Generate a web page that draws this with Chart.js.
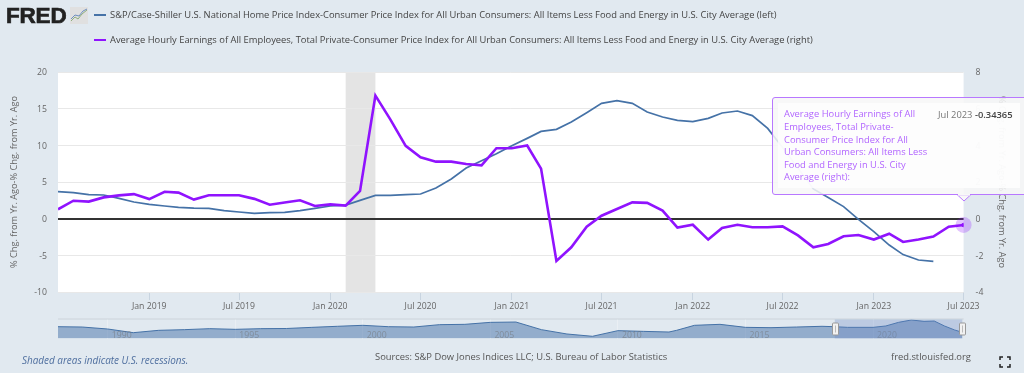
<!DOCTYPE html>
<html><head><meta charset="utf-8">
<script src="https://cdn.jsdelivr.net/npm/chart.js@4"></script>
<style>
html,body{margin:0;padding:0;background:#e1e9f0;width:1024px;height:373px;overflow:hidden;font-family:"Open Sans",sans-serif;}
canvas{position:absolute;left:0;display:block}
.t{position:absolute;white-space:nowrap;line-height:14px;}
.leg{font-size:9.37px;color:#444;left:110px}
.key{position:absolute;left:94px;width:12px}
#tip{position:absolute;left:772px;top:97px;width:270px;height:98px;box-sizing:border-box;border:1px solid #b878ff;border-radius:3px;background:rgba(247,247,247,.85)}
#tipin{position:absolute;left:778px;top:103px;width:242px;height:85px;background:rgba(255,255,255,.8)}
#tipname{position:absolute;left:784px;top:108.4px;width:147px;font-size:9.37px;line-height:12.6px;color:#b266ff}
</style></head><body>
<canvas id="main" width="1024" height="373" style="top:0"></canvas>
<canvas id="nav" width="1024" height="27" style="top:315px"></canvas>

<div class="t" style="left:6px;top:4px;font:900 22.5px/24px 'Liberation Sans',sans-serif;color:#222;-webkit-text-stroke:.7px #222;letter-spacing:-.2px">FRED</div>
<svg style="position:absolute;left:70px;top:7px" width="18" height="17"><rect width="18" height="17" fill="#e0e0e0"/><polyline points="1,14 5,10 8,12 12,7 17,3" fill="none" stroke="#8fae7c" stroke-width="1"/><polyline points="1,12 5,8 9,9 13,4 17,2" fill="none" stroke="#6f8fbf" stroke-width="1"/></svg>

<div class="key" style="top:14px;height:1.5px;background:#4572a7"></div>
<div class="key" style="top:38.5px;height:2px;background:#9013fe"></div>
<div class="t leg" style="top:8px">S&amp;P/Case-Shiller U.S. National Home Price Index-Consumer Price Index for All Urban Consumers: All Items Less Food and Energy in U.S. City Average (left)</div>
<div class="t leg" style="top:32.7px">Average Hourly Earnings of All Employees, Total Private-Consumer Price Index for All Urban Consumers: All Items Less Food and Energy in U.S. City Average (right)</div>

<div id="tip"></div><div id="tipin"></div>
<svg style="position:absolute;left:957px;top:194px" width="14" height="8"><polygon points="0.5,1 7,7 13.5,1" fill="#f8f8f8" stroke="#b878ff"/><rect x="1" y="0" width="12" height="1.6" fill="#f8f8f8"/></svg>
<div id="tipname">Average Hourly Earnings of All Employees, Total Private-Consumer Price Index for All Urban Consumers: All Items Less Food and Energy in U.S. City Average (right):</div>
<div class="t" style="left:938px;top:108px;font-size:9.37px;color:#777">Jul 2023 <span style="color:#444;font-weight:600">-0.34365</span></div>

<div class="t" style="left:22px;top:353px;font-size:9.94px;font-style:italic;color:#4f6f9f">Shaded areas indicate U.S. recessions.</div>
<div class="t" style="left:375px;top:350px;font-size:9.37px;color:#555">Sources: S&amp;P Dow Jones Indices LLC; U.S. Bureau of Labor Statistics</div>
<div class="t" style="left:891px;top:350px;font-size:9.37px;color:#555">fred.stlouisfed.org</div>
<svg style="position:absolute;left:999px;top:356px" width="12" height="12" fill="none" stroke="#222" stroke-width="1.5"><path d="M1,4V1H4M8,1H11V4M11,8V11H8M4,11H1V8"/></svg>

<script>
const months = ['2018-07','2018-08','2018-09','2018-10','2018-11','2018-12','2019-01','2019-02','2019-03','2019-04','2019-05','2019-06','2019-07','2019-08','2019-09','2019-10','2019-11','2019-12','2020-01','2020-02','2020-03','2020-04','2020-05','2020-06','2020-07','2020-08','2020-09','2020-10','2020-11','2020-12','2021-01','2021-02','2021-03','2021-04','2021-05','2021-06','2021-07','2021-08','2021-09','2021-10','2021-11','2021-12','2022-01','2022-02','2022-03','2022-04','2022-05','2022-06','2022-07','2022-08','2022-09','2022-10','2022-11','2022-12','2023-01','2023-02','2023-03','2023-04','2023-05','2023-06','2023-07'];
const homePrice = [3.68,3.55,3.27,3.23,2.77,2.27,1.95,1.73,1.55,1.43,1.41,1.09,0.91,0.73,0.82,0.86,1.09,1.41,1.73,1.85,2.5,3.18,3.18,3.27,3.36,4.18,5.41,6.9,7.9,8.86,9.95,10.95,11.9,12.18,13.18,14.45,15.73,16.09,15.73,14.55,13.86,13.41,13.23,13.68,14.41,14.68,14.05,12.3,9.7,6.9,4.05,2.9,1.64,-0.1,-1.77,-3.6,-4.9,-5.64,-5.82,null,null];
const earnings = [0.51,0.98,0.93,1.16,1.27,1.34,1.07,1.47,1.42,1.04,1.28,1.28,1.28,1.08,0.76,0.88,1.0,0.69,0.78,0.71,1.51,6.71,5.42,3.97,3.35,3.11,3.11,2.98,2.91,3.84,3.84,3.99,2.73,-2.31,-1.56,-0.44,0.16,0.53,0.89,0.86,0.44,-0.49,-0.33,-1.14,-0.51,-0.33,-0.47,-0.47,-0.42,-0.91,-1.56,-1.38,-0.96,-0.89,-1.14,-0.82,-1.27,-1.14,-0.98,-0.44,-0.34365];
const tickMonths = ['2019-01','2019-07','2020-01','2020-07','2021-01','2021-07','2022-01','2022-07','2023-01','2023-07'];
const recession = ['2020-02','2020-04'];
const navYears = [1988.05,1989,1990,1991,1992,1993,1994,1995,1996,1997,1998,1999,2000,2001,2002,2003,2004,2005,2006,2007,2008,2009,2010,2011,2012,2012.3,2013,2014,2015,2016,2017,2018,2018.5,2019,2020,2020.5,2021,2021.5,2022,2022.4,2022.8,2023.2,2023.5];
const navValues = [4.2,3.6,0,-6.7,-2.4,-1.2,0.6,-0.6,0.6,0.9,3,4.9,6.7,4.2,3.6,7.9,8.5,12.1,12.7,-1.2,-9.1,-13.3,-3,-4.3,-5.5,-2.4,6.7,8.5,3,2.4,3.6,4.9,4.2,3,3,5.5,12.1,16.4,13.9,14.5,5.5,-1.8,-6];
const navTicks = [1990,1995,2000,2005,2010,2015,2020];
const navWindow = [2018.5,2023.5];

const ms = m => Date.parse(m+'-01T00:00:00Z');
const MON = ['Jan','Feb','Mar','Apr','May','Jun','Jul','Aug','Sep','Oct','Nov','Dec'];
Chart.defaults.font.family = '"Open Sans"';
Chart.defaults.animation = false;

const bgPlugin = {id:'bg',beforeDraw(c){
  const a=c.chartArea,x=c.scales.x,g=c.ctx;
  g.save();g.fillStyle='#fff';g.fillRect(a.left,a.top,a.width,a.height);
  g.fillStyle='#e4e4e4';
  const l=x.getPixelForValue(ms(recession[0])),r=x.getPixelForValue(ms(recession[1]));
  g.fillRect(l,a.top,r-l,a.height);g.restore();
}};

new Chart(document.getElementById('main'),{
  type:'line',
  plugins:[bgPlugin],
  data:{datasets:[
    {label:'halo',yAxisID:'y1',clip:false,data:[{x:ms(months[60]),y:earnings[60]}],showLine:false,pointRadius:8,pointBorderWidth:0,pointBackgroundColor:'rgba(144,19,254,.25)',order:3},
    {label:'Average Hourly Earnings',yAxisID:'y1',data:months.map((m,i)=>({x:ms(m),y:earnings[i]})),borderColor:'#9013fe',borderWidth:2.6,tension:0,pointRadius:c=>c.dataIndex===60?2.3:0,pointBorderWidth:0,pointBackgroundColor:'#9013fe',order:1},
    {label:'S&P/Case-Shiller',yAxisID:'y',data:months.map((m,i)=>({x:ms(m),y:homePrice[i]})),borderColor:'#4572a7',borderWidth:1.7,tension:0,pointRadius:0,spanGaps:false,order:2}
  ]},
  options:{
    responsive:false,devicePixelRatio:1,
    layout:{padding:{top:72,left:0,right:0,bottom:0}},
    plugins:{legend:{display:false},tooltip:{enabled:false}},
    scales:{
      x:{type:'linear',min:ms(months[0]),max:ms(months[60]),
        afterBuildTicks:s=>{s.ticks=tickMonths.map(m=>({value:ms(m)}));},
        afterFit:s=>{s.height=81;},
        grid:{drawOnChartArea:false,tickLength:8,tickColor:'#c8d4e0'},
        border:{display:false},
        ticks:{autoSkip:false,maxRotation:0,padding:1,color:'#666',font:{size:8.7},
          callback:v=>{const d=new Date(v);return MON[d.getUTCMonth()]+' '+d.getUTCFullYear();}}},
      y:{position:'left',min:-10,max:20,
        afterFit:s=>{s.width=58;},
        title:{display:true,text:'% Chg. from Yr. Ago-% Chg. from Yr. Ago',color:'#666',font:{size:9.2},padding:{top:9,bottom:0}},
        border:{display:false},
        grid:{drawTicks:false,color:c=>c.tick.value===0?'#333':'#e8e8e8',lineWidth:c=>c.tick.value===0?2:1},
        ticks:{stepSize:5,padding:11,labelOffset:1,color:'#666',font:{size:8.7}}},
      y1:{position:'right',min:-4,max:8,
        afterFit:s=>{s.width=60.4;},
        title:{display:true,text:'% Chg. from Yr. Ago-% Chg. from Yr. Ago',color:'#666',font:{size:9.2},padding:{top:17,bottom:0}},
        border:{display:false},
        grid:{display:false,drawTicks:false},
        ticks:{stepSize:2,padding:12,labelOffset:1,color:'#666',font:{size:8.7}}}
    }
  }
});

const navPlugin = {id:'navmask',
  beforeDraw(c){
    const a=c.chartArea,g=c.ctx;
    g.save();g.strokeStyle='#ccd3da';g.beginPath();g.moveTo(a.left,a.top-.5);g.lineTo(a.right,a.top-.5);g.stroke();g.restore();
  },
  afterDraw(c){
    const a=c.chartArea,x=c.scales.x,g=c.ctx;
    const l=x.getPixelForValue(navWindow[0]),r=x.getPixelForValue(navWindow[1]);
    g.save();
    g.fillStyle='rgba(102,133,194,.3)';g.fillRect(l,a.top,r-l,a.height);
    [l,r].forEach(p=>{
      g.fillStyle='#f2f2f2';g.strokeStyle='#999';g.lineWidth=1;
      g.beginPath();g.roundRect(Math.round(p)-3+.5,a.top+3.5,6,12,1);g.fill();g.stroke();
      g.strokeStyle='#bbb';g.beginPath();g.moveTo(Math.round(p)+.5,a.top+6);g.lineTo(Math.round(p)+.5,a.top+13);g.stroke();
    });
    g.restore();
  }
};
new Chart(document.getElementById('nav'),{
  type:'line',
  plugins:[navPlugin],
  data:{datasets:[{data:navYears.map((y,i)=>({x:y,y:navValues[i]})),borderColor:'#4572a7',borderWidth:1,fill:'start',backgroundColor:'rgba(69,114,167,.5)',tension:0,pointRadius:0}]},
  options:{
    responsive:false,devicePixelRatio:1,
    layout:{padding:{top:4.5,left:58,right:60.4,bottom:0}},
    plugins:{legend:{display:false},tooltip:{enabled:false}},
    scales:{
      x:{type:'linear',min:1988.05,max:2023.55,
        afterBuildTicks:s=>{s.ticks=navTicks.map(v=>({value:v}));},
        afterFit:s=>{s.height=3.5;},
        border:{display:false},
        grid:{drawTicks:false,color:'rgba(255,255,255,.3)'},
        ticks:{z:1,mirror:true,autoSkip:false,maxRotation:0,align:'start',labelOffset:4,padding:-2.2,color:'rgba(110,110,110,.5)',font:{size:8.7},callback:v=>String(v)}},
      y:{display:false,min:-17.3,max:17.3}
    }
  }
});
</script>
</body></html>
